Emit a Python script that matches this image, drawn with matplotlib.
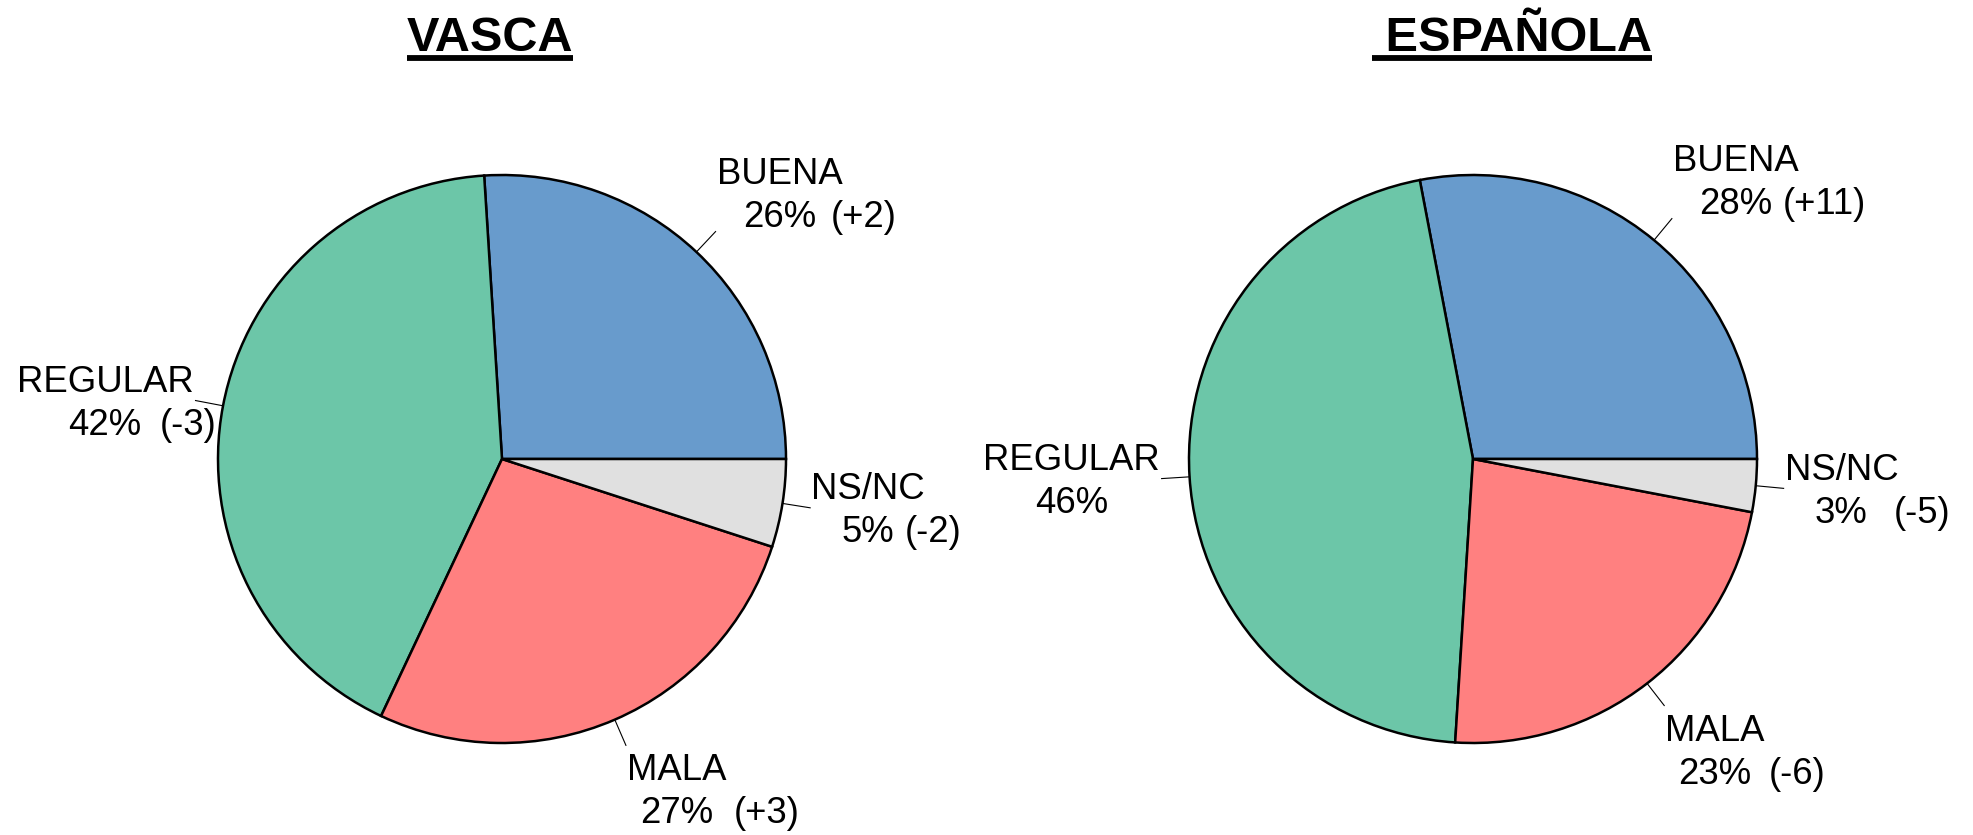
import matplotlib
matplotlib.use('Agg')
import matplotlib.pyplot as plt
import numpy as np

plt.rcParams['font.family'] = ['Liberation Sans', 'DejaVu Sans']

# Data
categories = ['BUENA', 'REGULAR', 'MALA', 'NS/NC']
vasca = [26, 42, 27, 5]
vasca_change = ['(+2)', '(-3)', '(+3)', '(-2)']
espanola = [28, 46, 23, 3]
espanola_change = ['(+11)', '', '(-6)', '(-5)']
titles = ['VASCA', ' ESPAÑOLA']

colors = ['#689BCC', '#6CC6A8', '#FF8080', '#E0E0E0']

# Layout (pixels, origin top-left)
W, H = 1973, 835
radius = 284
centers = [(502, 459), (1473, 459)]
title_x = [490, 1512]
title_baseline = 51
label_size = 26.3
line_pitch = 43
cap = 0.716 * label_size * 100 / 72
# gap between the percent text and the change text
gaps = [[15, 18, 21, 10], [10, 0, 17, 26]]

fig = plt.figure(figsize=(W / 100, H / 100), dpi=100)
ax = fig.add_axes([0, 0, 1, 1])


def ypix(y):
    return H - y


panels = [(vasca, vasca_change), (espanola, espanola_change)]
labels = []

for p, (values, changes) in enumerate(panels):
    cx, cy = centers[p]
    wedges, _ = ax.pie(values, colors=colors, startangle=0, counterclock=True,
                       radius=radius, center=(cx, ypix(cy)),
                       wedgeprops=dict(edgecolor='black', linewidth=1.8))
    # radial leader lines
    for i, w in enumerate(wedges):
        mid = np.deg2rad((w.theta1 + w.theta2) / 2)
        c, s = np.cos(mid), np.sin(mid)
        x0, y0 = cx + radius * c, ypix(cy) + radius * s
        x1, y1 = cx + (radius + 28) * c, ypix(cy) + (radius + 28) * s
        ax.plot([x0, x1], [y0, y1], color='black', linewidth=0.8)
        t_name = ax.text(0, 0, categories[i], ha='center', va='baseline',
                         fontsize=label_size)
        t_pct = ax.text(0, 0, f"{values[i]}%", ha='center', va='baseline',
                        fontsize=label_size)
        labels.append((x1, y1, c, s, t_name, t_pct, changes[i], gaps[p][i]))

    ax.text(title_x[p], ypix(title_baseline), titles[p], ha='center',
            va='baseline', fontsize=35, fontweight='bold')

ax.set_xlim(0, W)
ax.set_ylim(0, H)
ax.axis('off')

# position labels using measured text widths
fig.canvas.draw()
renderer = fig.canvas.get_renderer()

for x1, y1, c, s, t_name, t_pct, change, gap in labels:
    wn = t_name.get_window_extent(renderer).width
    wp = t_pct.get_window_extent(renderer).width
    bw = max(wn, wp)
    if c > 0:
        xc = x1 + 1 + bw / 2
    else:
        xc = x1 - 2 - bw / 2
    if s > 0.5:
        ly2 = y1 + 18
        ly1 = ly2 + line_pitch
    elif s < -0.5:
        ly1 = y1 - 22
        ly2 = ly1 - line_pitch
    else:
        ly1 = y1 + line_pitch / 2
        ly2 = y1 - line_pitch / 2
    t_name.set_position((xc, ly1 - cap / 2))
    t_pct.set_position((xc, ly2 - cap / 2))
    if change:
        ax.text(xc + wp / 2 + gap, ly2 - cap / 2, change, ha='left',
                va='baseline', fontsize=label_size)

# title underlines
for t in ax.texts:
    if t.get_text() in titles:
        bb = t.get_window_extent(renderer)
        ax.plot([bb.x0, bb.x1], [ypix(58), ypix(58)], color='black',
                linewidth=4.2, solid_capstyle='butt')

fig.savefig('out.png', dpi=100)
